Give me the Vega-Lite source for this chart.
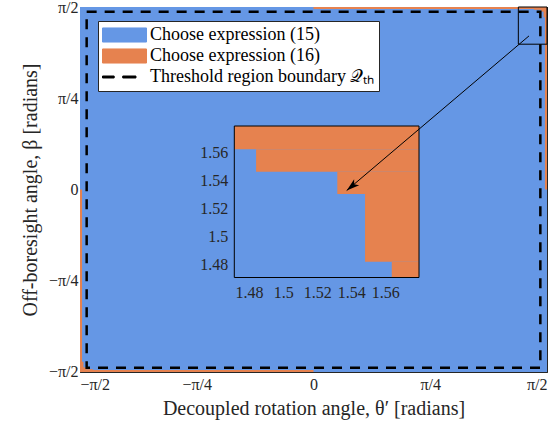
{
  "$schema": "https://vega.github.io/schema/vega-lite/v6.json",
  "width": 467,
  "height": 365,
  "autosize": {"type": "none"},
  "padding": {"left": 80, "top": 7, "right": 12, "bottom": 57},
  "background": "white",
  "config": {
    "view": {"stroke": null},
    "axis": {
      "labelFont": "Liberation Serif",
      "labelFontSize": 16,
      "labelColor": "#262626",
      "titleFont": "Liberation Serif",
      "titleFontSize": 20,
      "titleFontWeight": "normal",
      "titleColor": "#262626",
      "domainColor": "#262626",
      "tickColor": "#262626",
      "grid": false,
      "zindex": 1,
      "labelOverlap": false
    },
    "legend": {
      "labelFont": "Liberation Serif",
      "labelFontSize": 18,
      "labelColor": "#000000",
      "labelLimit": 0,
      "symbolType": "M-1,-0.32H1V0.32H-1Z",
      "symbolSize": 1936,
      "symbolStrokeColor": "#000000",
      "symbolStrokeWidth": 1
    }
  },
  "datasets": {
    "main": [
      {"x0": -1.5708, "x1": 1.5708, "y0": -1.5708, "y1": 1.5708, "cls": "e15"},
      {"x0": 0, "x1": 1.5708, "y0": 1.554, "y1": 1.5708, "cls": "e16"},
      {"x0": 1.557, "x1": 1.5708, "y0": 0, "y1": 1.5708, "cls": "e16"},
      {"x0": 1.4838, "x1": 1.5708, "y0": 1.5468, "y1": 1.5708, "cls": "e16"},
      {"x0": 1.5315, "x1": 1.5708, "y0": 1.5308, "y1": 1.5708, "cls": "e16"},
      {"x0": 1.5478, "x1": 1.5708, "y0": 1.4823, "y1": 1.5708, "cls": "e16"},
      {"x0": -1.5708, "x1": 0, "y0": -1.5708, "y1": -1.554, "cls": "e16"},
      {"x0": -1.5708, "x1": -1.557, "y0": -1.5708, "y1": 0, "cls": "e16"},
      {"x0": -1.5708, "x1": -1.4838, "y0": -1.5708, "y1": -1.5468, "cls": "e16"},
      {"x0": -1.5708, "x1": -1.5315, "y0": -1.5708, "y1": -1.5308, "cls": "e16"},
      {"x0": -1.5708, "x1": -1.5478, "y0": -1.5708, "y1": -1.4823, "cls": "e16"}
    ],
    "boundary": [
      {"x0": -1.526, "x1": 1.526, "y0": -1.535, "y1": 1.529, "cls": "thr"}
    ],
    "zoombox": [
      {"x0": 1.378, "x1": 1.5708, "y0": 1.2506, "y1": 1.5708}
    ],
    "inset": [
      {"x0": 1.471, "x1": 1.5795, "y0": 1.471, "y1": 1.5795, "cls": "e15"},
      {"x0": 1.471, "x1": 1.5795, "y0": 1.5628, "y1": 1.5795, "cls": "e16"},
      {"x0": 1.4838, "x1": 1.5795, "y0": 1.5468, "y1": 1.5628, "cls": "e16"},
      {"x0": 1.5315, "x1": 1.5795, "y0": 1.5308, "y1": 1.5468, "cls": "e16"},
      {"x0": 1.5478, "x1": 1.5795, "y0": 1.4823, "y1": 1.5308, "cls": "e16"},
      {"x0": 1.5635, "x1": 1.5795, "y0": 1.471, "y1": 1.4823, "cls": "e16"}
    ],
    "insetTicks": [
      {"v": 1.48, "lab": "1.48"},
      {"v": 1.5, "lab": "1.5"},
      {"v": 1.52, "lab": "1.52"},
      {"v": 1.54, "lab": "1.54"},
      {"v": 1.56, "lab": "1.56"}
    ],
    "arrow": [
      {"x0": 1.4497, "y0": 1.3219, "x1": 0.2233, "y1": -0.0086}
    ]
  },
  "layer": [
    {
      "layer": [
        {
          "data": {"name": "main"},
          "mark": {"type": "rect", "strokeWidth": 0},
          "encoding": {
            "x": {
              "field": "x0", "type": "quantitative",
              "scale": {"domain": [-1.5708, 1.5708], "nice": false, "zero": false},
              "axis": {
                "orient": "bottom",
                "values": [-1.5707963, -0.7853982, 0, 0.7853982, 1.5707963],
                "labelExpr": "datum.value < -1.5 ? '−π/2' : datum.value < -0.5 ? '−π/4' : datum.value < 0.5 ? '0' : datum.value < 1.5 ? 'π/4' : 'π/2'",
                "tickSize": -5,
                "labelPadding": 9,
                "titlePadding": 6,
                "title": "Decoupled rotation angle, θ′ [radians]"
              }
            },
            "x2": {"field": "x1"},
            "y": {
              "field": "y0", "type": "quantitative",
              "scale": {"domain": [-1.5708, 1.5708], "nice": false, "zero": false},
              "axis": {
                "orient": "left",
                "values": [-1.5707963, -0.7853982, 0, 0.7853982, 1.5707963],
                "labelExpr": "datum.value < -1.5 ? '−π/2' : datum.value < -0.5 ? '−π/4' : datum.value < 0.5 ? '0' : datum.value < 1.5 ? 'π/4' : 'π/2'",
                "tickSize": -5,
                "labelPadding": 7,
                "titlePadding": 8,
                "title": "Off-boresight angle, β [radians]"
              }
            },
            "y2": {"field": "y1"},
            "color": {
              "field": "cls", "type": "nominal",
              "scale": {"domain": ["e15", "e16", "thr"], "range": ["#6597E5", "#E6824F", "#000000"]},
              "legend": {
                "title": null,
                "orient": "none",
                "legendX": 18,
                "legendY": 14,
                "padding": 4,
                "fillColor": "white",
                "strokeColor": "#262626",
                "symbolType": "M-1,-0.32H1V0.32H-1Z",
                "symbolSize": 1936,
                "symbolStrokeColor": "#000000",
                "symbolStrokeWidth": 1,
                "symbolOpacity": 1,
                "clipHeight": 20,
                "rowPadding": 1,
                "labelOffset": 3,
                "labelLimit": 0,
                "labelExpr": "datum.value == 'e15' ? 'Choose expression (15)' : datum.value == 'e16' ? 'Choose expression (16)' : 'Threshold region boundary 𝒬ₜₕ'",
                "encode": {
                  "symbols": {
                    "update": {
                      "size": {"value": 1936},
                      "strokeWidth": {"value": 1},
                      "stroke": {"value": "#000000"},
                      "shape": {"signal": "datum.value == 'thr' ? 'M-1,-0.045H-0.47V0.045H-1Z M-0.08,-0.045H0.52V0.045H-0.08Z' : 'M-1,-0.32H1V0.32H-1Z'"}
                    }
                  }
                }
              }
            }
          }
        },
        {
          "data": {"name": "boundary"},
          "mark": {"type": "rect", "filled": false, "strokeWidth": 2.5, "strokeDash": [10, 8], "opacity": 1},
          "encoding": {
            "x": {"field": "x0", "type": "quantitative"},
            "x2": {"field": "x1"},
            "y": {"field": "y0", "type": "quantitative"},
            "y2": {"field": "y1"},
            "color": {"field": "cls", "type": "nominal"}
          }
        },
        {
          "data": {"name": "zoombox"},
          "mark": {"type": "rect", "fill": null, "stroke": "#000000", "strokeWidth": 1},
          "encoding": {
            "x": {"field": "x0", "type": "quantitative"},
            "x2": {"field": "x1"},
            "y": {"field": "y0", "type": "quantitative"},
            "y2": {"field": "y1"}
          }
        }
      ]
    },
    {
      "layer": [
        {
          "data": {"name": "inset"},
          "mark": {"type": "rect", "strokeWidth": 0},
          "encoding": {
            "x": {
              "field": "x0", "type": "quantitative",
              "scale": {"domain": [1.471, 1.5795], "range": [154.3, 339], "nice": false, "zero": false},
              "axis": null
            },
            "x2": {"field": "x1"},
            "y": {
              "field": "y0", "type": "quantitative",
              "scale": {"domain": [1.471, 1.5795], "range": [270.5, 119], "nice": false, "zero": false},
              "axis": null
            },
            "y2": {"field": "y1"},
            "color": {"field": "cls", "type": "nominal"}
          }
        },
        {
          "data": {"name": "inset"},
          "transform": [{"filter": "datum.cls == 'e15'"}],
          "mark": {"type": "rect", "fill": null, "stroke": "#000000", "strokeWidth": 1},
          "encoding": {
            "x": {"field": "x0", "type": "quantitative"},
            "x2": {"field": "x1"},
            "y": {"field": "y0", "type": "quantitative"},
            "y2": {"field": "y1"}
          }
        },
        {
          "data": {"name": "insetTicks"},
          "mark": {"type": "text", "font": "Liberation Serif", "fontSize": 16, "color": "#262626", "align": "center", "baseline": "top", "dy": 7},
          "encoding": {
            "x": {"field": "v", "type": "quantitative"},
            "y": {"datum": 1.471, "type": "quantitative"},
            "text": {"field": "lab"}
          }
        },
        {
          "data": {"name": "insetTicks"},
          "mark": {"type": "text", "font": "Liberation Serif", "fontSize": 16, "color": "#262626", "align": "right", "baseline": "middle", "dx": -6},
          "encoding": {
            "y": {"field": "v", "type": "quantitative"},
            "x": {"datum": 1.471, "type": "quantitative"},
            "text": {"field": "lab"}
          }
        }
      ]
    },
    {
      "data": {"name": "arrow"},
      "layer": [
        {
          "mark": {"type": "rule", "color": "#000000", "strokeWidth": 1},
          "encoding": {
            "x": {
              "field": "x0", "type": "quantitative",
              "scale": {"domain": [-1.5708, 1.5708], "nice": false, "zero": false},
              "axis": {
                "orient": "top",
                "values": [-1.5707963, -0.7853982, 0, 0.7853982, 1.5707963],
                "labels": false,
                "tickSize": -5,
                "title": null
              }
            },
            "x2": {"field": "x1"},
            "y": {
              "field": "y0", "type": "quantitative",
              "scale": {"domain": [-1.5708, 1.5708], "nice": false, "zero": false},
              "axis": {
                "orient": "right",
                "values": [-1.5707963, -0.7853982, 0, 0.7853982, 1.5707963],
                "labels": false,
                "tickSize": -5,
                "title": null
              }
            },
            "y2": {"field": "y1"}
          }
        },
        {
          "mark": {
            "type": "point",
            "shape": "M0,0L0.6,2L0,1.5L-0.6,2Z",
            "size": 169,
            "angle": 230,
            "filled": true,
            "color": "#000000",
            "opacity": 1
          },
          "encoding": {
            "x": {"field": "x1", "type": "quantitative"},
            "y": {"field": "y1", "type": "quantitative"}
          }
        }
      ]
    }
  ],
  "resolve": {"scale": {"x": "independent", "y": "independent"}}
}
